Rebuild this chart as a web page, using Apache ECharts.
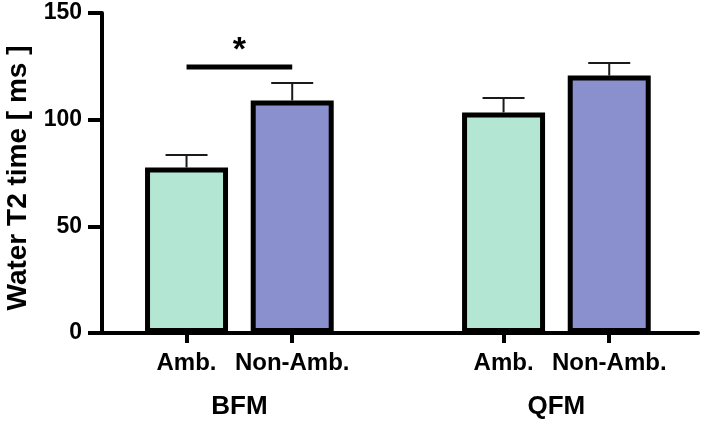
<!DOCTYPE html>
<html>
<head>
<meta charset="utf-8">
<script src="https://cdn.jsdelivr.net/npm/echarts@6/dist/echarts.min.js"></script>
<style>
  html, body { margin: 0; padding: 0; background: #fff; }
  #chart { width: 701px; height: 422px; }
</style>
</head>
<body>
<div id="chart"></div>
<script>
// bar positions on the x axis (gap between the two groups)
var positions = [1, 2, 4, 5];
var tickLabels = ['Amb.', 'Non-Amb.', 'Amb.', 'Non-Amb.'];
var groups = ['BFM', 'QFM'];
var groupPos = [1.5, 4.5];

// Water T2 time [ms]
var ambValues = [77.6, 103.4];
var nonAmbValues = [109.0, 120.7];
var ambErr = [5.8, 6.8];
var nonAmbErr = [8.2, 5.9];

// significance bracket between BFM Amb. and Non-Amb.
var sigFrom = 1;
var sigTo = 2;
var sigLevel = 124.7;
var sigLabel = '*';

var yTicks = [0, 50, 100, 150];

var font = 'Arial, "Liberation Sans", sans-serif';

var myChart = echarts.init(document.getElementById('chart'));

var ambData = [[positions[0], ambValues[0]], [positions[2], ambValues[1]]];
var nonAmbData = [[positions[1], nonAmbValues[0]], [positions[3], nonAmbValues[1]]];
var errData = [
    [positions[0], ambValues[0], ambErr[0]],
    [positions[1], nonAmbValues[0], nonAmbErr[0]],
    [positions[2], ambValues[1], ambErr[1]],
    [positions[3], nonAmbValues[1], nonAmbErr[1]]
];

function labelFor(list, names) {
    return function (v) {
        for (var i = 0; i < list.length; i++) {
            if (Math.abs(list[i] - v) < 1e-6) return names[i];
        }
        return '';
    };
}

var option = {
    animation: false,
    grid: { left: 102, right: 3, top: 13, bottom: 89, containLabel: false, outerBoundsMode: 'none' },
    xAxis: [{
        type: 'value',
        min: 0.2,
        max: 5.84,
        splitLine: { show: false },
        axisLine: { show: true, lineStyle: { color: '#000', width: 4 } },
        axisTick: { show: true, customValues: positions, length: 10, lineStyle: { color: '#000', width: 4 } },
        axisLabel: {
            customValues: positions,
            formatter: labelFor(positions, tickLabels),
            margin: 18,
            color: '#000',
            fontSize: 24,
            fontWeight: 'bold',
            fontFamily: font
        }
    }, {
        type: 'value',
        position: 'bottom',
        min: 0.2,
        max: 5.84,
        splitLine: { show: false },
        axisLine: { show: false },
        axisTick: { show: false },
        axisLabel: {
            customValues: groupPos,
            formatter: labelFor(groupPos, groups),
            margin: 61,
            color: '#000',
            fontSize: 26,
            fontWeight: 'bold',
            fontFamily: font
        }
    }],
    yAxis: {
        type: 'value',
        min: 0,
        max: 150,
        interval: 50,
        name: 'Water T2 time [ ms ]',
        nameLocation: 'middle',
        nameRotate: 90,
        nameGap: 70,
        nameTextStyle: { color: '#000', fontSize: 28, fontWeight: 'bold', fontFamily: font, padding: [0, 10, 0, 0] },
        splitLine: { show: false },
        axisLine: { show: true, lineStyle: { color: '#000', width: 4 } },
        axisTick: { show: true, length: 14, lineStyle: { color: '#000', width: 4 } },
        axisLabel: {
            customValues: yTicks,
            margin: 20,
            color: '#000',
            fontSize: 23,
            fontWeight: 'bold',
            fontFamily: font
        }
    },
    series: [{
        name: 'Amb.',
        type: 'bar',
        data: ambData,
        barWidth: 83,
        barGap: '-100%',
        itemStyle: { color: '#b3e7d3', borderColor: '#000', borderWidth: 5 },
        z: 3
    }, {
        name: 'Non-Amb.',
        type: 'bar',
        data: nonAmbData,
        barWidth: 83,
        barGap: '-100%',
        itemStyle: { color: '#8a8fce', borderColor: '#000', borderWidth: 5 },
        z: 3
    }, {
        name: 'error',
        type: 'custom',
        data: errData,
        z: 2,
        renderItem: function (params, api) {
            var x = api.value(0), v = api.value(1), e = api.value(2);
            var base = api.coord([x, v]);
            var top = api.coord([x, v + e]);
            var style = { stroke: '#1a1a1a', lineWidth: 2 };
            return {
                type: 'group',
                children: [
                    { type: 'line', shape: { x1: base[0], y1: base[1], x2: top[0], y2: top[1] }, style: style },
                    { type: 'line', shape: { x1: top[0] - 21, y1: top[1], x2: top[0] + 21, y2: top[1] }, style: style }
                ]
            };
        }
    }, {
        name: 'sig',
        type: 'custom',
        data: [[sigFrom, sigTo, sigLevel]],
        z: 4,
        renderItem: function (params, api) {
            var a = api.coord([api.value(0), api.value(2)]);
            var b = api.coord([api.value(1), api.value(2)]);
            return {
                type: 'group',
                children: [
                    { type: 'line', shape: { x1: a[0], y1: a[1], x2: b[0], y2: b[1] }, style: { stroke: '#000', lineWidth: 5 } },
                    {
                        type: 'text',
                        style: {
                            text: sigLabel,
                            x: (a[0] + b[0]) / 2,
                            y: a[1] + 1,
                            align: 'center',
                            verticalAlign: 'bottom',
                            fill: '#000',
                            font: 'bold 34px ' + font
                        }
                    }
                ]
            };
        }
    }]
};

myChart.setOption(option);
window.addEventListener('resize', function () {
    myChart.resize();
});
</script>
</body>
</html>
